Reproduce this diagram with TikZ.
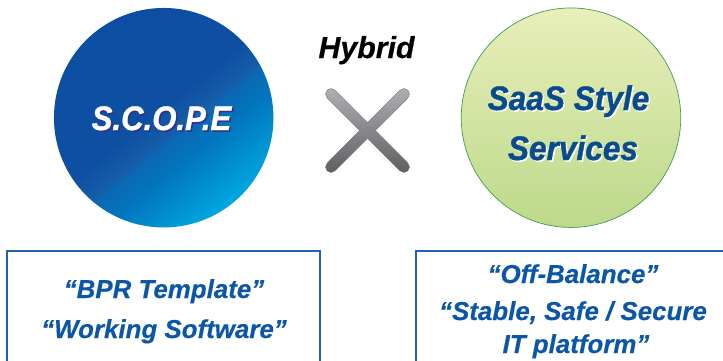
\documentclass[tikz,border=0pt]{standalone}
\usepackage{fontspec}
\usepackage{graphicx}
\setmainfont{Liberation Sans}
\newfontfamily\heavyfont{Liberation Sans}[BoldItalicFeatures={FakeBold=1.1}]
\newfontfamily\midfont{Liberation Sans}[BoldItalicFeatures={FakeBold=0.4}]
\usetikzlibrary{shapes.geometric}
\definecolor{txtblue}{HTML}{0B56A6}
\definecolor{boxblue}{HTML}{1F63AE}
\definecolor{saasblue}{HTML}{0A4C8A}
\definecolor{shadowpurple}{HTML}{2E3192}
\definecolor{ringgreen}{HTML}{3F9C50}
\definecolor{sa}{HTML}{0C4EA1}
\definecolor{sb}{HTML}{0E4FA1}
\definecolor{sc}{HTML}{155DA9}
\definecolor{sd}{HTML}{0B67B3}
\definecolor{se}{HTML}{0276BE}
\definecolor{sf}{HTML}{00ABE4}
\definecolor{ga}{HTML}{BCD98A}
\definecolor{gb}{HTML}{E9EEBA}
\definecolor{xa}{HTML}{5E5F61}
\definecolor{xb}{HTML}{AEAFB2}
\definecolor{xline}{HTML}{77787B}
\pgfdeclareverticalshading{scopeshade}{100bp}{
  color(0bp)=(sa);
  color(25bp)=(sa);
  color(48bp)=(sb);
  color(54bp)=(sc);
  color(55bp)=(sd);
  color(61bp)=(se);
  color(76bp)=(sf);
  color(100bp)=(sf)}
\pgfdeclareverticalshading{saasshade}{100bp}{
  color(0bp)=(ga);
  color(25bp)=(ga);
  color(75bp)=(gb);
  color(100bp)=(gb)}
\pgfdeclareverticalshading{crossshade}{100bp}{
  color(0bp)=(xa);
  color(25bp)=(xa);
  color(75bp)=(xb);
  color(100bp)=(xb)}
\tikzset{
  x=1pt,y=-1pt,
  bolditalic/.style={inner sep=0pt, anchor=base},
  scopetxt/.style={bolditalic, font=\heavyfont\bfseries\itshape\fontsize{34}{40}\selectfont},
  saastxt/.style={bolditalic, font=\heavyfont\bfseries\itshape\fontsize{34}{40}\selectfont},
  hybridtxt/.style={bolditalic, font=\midfont\bfseries\itshape\fontsize{30.3}{36}\selectfont, text=black},
  boxtxt/.style={bolditalic, font=\midfont\bfseries\itshape\fontsize{25.9}{30}\selectfont, text=txtblue},
  panel/.style={draw=boxblue, line width=1.6pt}
}
\newcommand{\squeeze}[1]{\scalebox{.915}[1]{#1}}
\newcommand{\squeezewide}[1]{\scalebox{.93}[1]{#1}}
\begin{document}
\begin{tikzpicture}
\useasboundingbox (0,0) rectangle (723,360);
% circles
\node[circle, inner sep=0pt, minimum size=219.5pt, shading=scopeshade, shading angle=-141] (scope) at (163.7,117.7) {};
\node[circle, inner sep=0pt, minimum size=219.5pt, shading=saasshade, draw=ringgreen, line width=.7pt] (saas) at (571,117.7) {};
% circle texts
\node[scopetxt, text=shadowpurple] (scopeshadow) at (163,131.5) {\squeeze{S.C.O.P.E}};
\node[scopetxt, text=white] (scopetext) at (161.5,130) {\squeeze{S.C.O.P.E}};
\node[saastxt, text=white] (saasashadow) at (570,111.5) {\squeezewide{SaaS Style}};
\node[saastxt, text=saasblue] (saasa) at (568.5,110) {\squeezewide{SaaS Style}};
\node[saastxt, text=white] (saasbshadow) at (574.5,161.5) {\squeezewide{Services}};
\node[saastxt, text=saasblue] (saasb) at (573,160) {\squeezewide{Services}};
% hybrid
\node[hybridtxt] (hybrid) at (366.5,58) {Hybrid};
\path[shade, shading=crossshade, draw=xline, line width=.4pt]
  (334.9,90.1) -- (367.5,122.7) -- (400.1,90.1)
  arc[start angle=135, end angle=-45, radius=5.5pt]
  -- (375.3,130.5) -- (407.9,163.1)
  arc[start angle=45, end angle=-135, radius=5.5pt]
  -- (367.5,138.3) -- (334.9,170.9)
  arc[start angle=-45, end angle=-225, radius=5.5pt]
  -- (359.7,130.5) -- (327.1,97.9)
  arc[start angle=225, end angle=45, radius=5.5pt]
  -- cycle;
% panels
\draw[panel] (7,361) -- (7,251) -- (320,251) -- (320,361);
\draw[panel] (416,361) -- (416,251) -- (724,251);
\node[boxtxt] (bpr) at (164,298) {“BPR Template”};
\node[boxtxt] (working) at (164,338) {“Working Software”};
\node[boxtxt] (off) at (573,283) {“Off-Balance”};
\node[boxtxt] (stable) at (573,320) {“Stable, Safe / Secure};
\node[boxtxt] (itp) at (576,353) {IT platform”};
\end{tikzpicture}
\end{document}
